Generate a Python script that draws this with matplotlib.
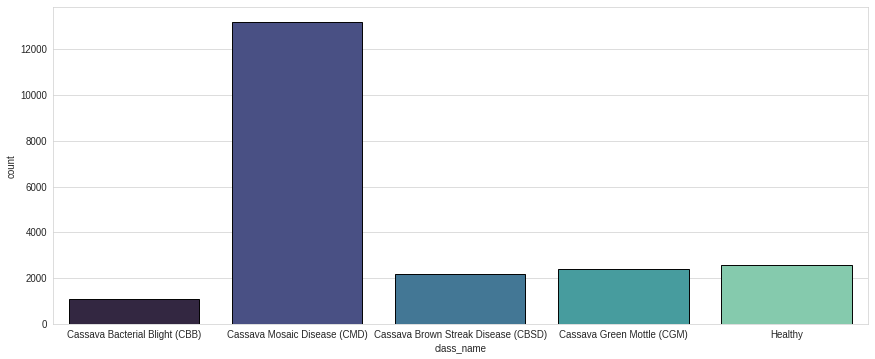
import numpy as np
import pandas as pd
import matplotlib
matplotlib.use("Agg")
import matplotlib.pyplot as plt
import seaborn as sns

# conteo de imagenes por clase
class_names = ["Cassava Bacterial Blight (CBB)", "Cassava Mosaic Disease (CMD)",
               "Cassava Brown Streak Disease (CBSD)", "Cassava Green Mottle (CGM)",
               "Healthy"]
counts = [1087, 13158, 2189, 2386, 2577]

df = pd.DataFrame({"class_name": class_names, "count": counts})

sns.set_style("whitegrid")
plt.rcParams['font.family'] = ['Liberation Sans', 'DejaVu Sans']
plt.rcParams['font.size'] = 12
plt.rcParams['axes.labelsize'] = 12
plt.rcParams['xtick.labelsize'] = 12
plt.rcParams['ytick.labelsize'] = 12

fig, ax = plt.subplots(figsize=(15, 15 * 359 / 875), dpi=875 / 15)
sns.barplot(data=df, x="class_name", y="count", hue="class_name",
            palette=sns.color_palette("mako", 5), edgecolor="black",
            linewidth=1.2, legend=False, ax=ax)
plt.subplots_adjust(left=0.06, right=0.992, top=0.98, bottom=0.097)
fig.savefig("out.png", dpi=875 / 15)
